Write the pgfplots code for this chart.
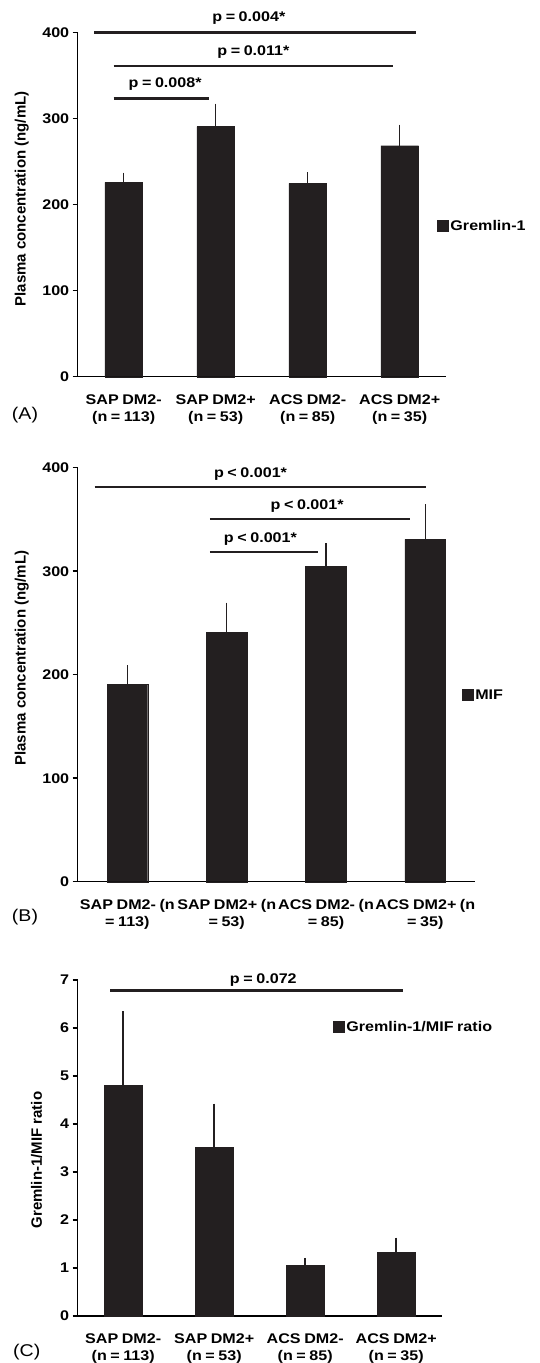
\documentclass[border=0pt]{standalone}
\usepackage{fontspec}
\setmainfont{Liberation Sans}[FakeStretch=1.15, WordSpace=0.8]
\newfontfamily\plainfont{Liberation Sans}
\usepackage{pgfplots}
\pgfplotsset{compat=1.18}
\definecolor{barc}{RGB}{35,31,32}
\newcommand{\tfont}{\bfseries\fontsize{14}{17.6}\selectfont}
\newcommand{\lfont}{\plainfont\bfseries\fontsize{15}{18}\selectfont}
\tikzset{sig/.style={line width=2.4pt, barc}}
\pgfplotsset{
  panel/.style={
    scale only axis,
    axis x line*=bottom, axis y line*=left,
    xmin=-0.5, xmax=3.5, ymin=0,
    xtick={0,1,2,3},
    x tick style={draw=none},
    y tick style={black, line width=1.5pt},
    tick align=outside, major tick length=5pt,
    axis line style={line width=1.5pt, black},
    ybar, bar width=0.41,
    clip=false,
    tick label style={font=\tfont},
    /pgf/number format/assume math mode=true,
    xticklabel style={align=center, yshift=-9pt},
    every axis y label/.style={rotate=90, anchor=center, font=\lfont},
    legend image code/.code={\fill[barc] (0pt,-5.5pt) rectangle (11pt,5.5pt);},
    legend style={draw=none, fill=none, anchor=west, font=\tfont, inner sep=0pt},
  },
  bars/.style={fill=barc, draw=barc,
    error bars/.cd, y dir=plus, y explicit,
    error bar style={line width=1.5pt, barc},
    error mark options={barc, mark size=3pt, line width=1.5pt}},
}
\begin{document}
\begin{tikzpicture}
\useasboundingbox (0,0) rectangle (539pt,-1363pt);
% Panel A
\begin{axis}[panel, at={(77.7pt,-376.7pt)}, anchor=south west,
  width=368pt, height=344.4pt, ymax=400, ytick={0,100,200,300,400},
  xticklabels={{SAP DM2-\\(n = 113)},{SAP DM2+\\(n = 53)},{ACS DM2-\\(n = 85)},{ACS DM2+\\(n = 35)}},
  ylabel={Plasma concentration (ng/mL)},
  ylabel style={at={(axis description cs:-0.152,0.516)}},
  legend style={at={(axis description cs:0.976,0.4376)}}]
\addplot[bars] coordinates {(0,225.8) +- (0,7.7) (1,290.4) +- (0,23.2) (2,224.6) +- (0,9.4) (3,268.3) +- (0,20.9)};
\legend{Gremlin-1}
\draw[sig] (axis cs:-0.32,400) -- (axis cs:3.18,400);
\draw[sig] (axis cs:-0.11,361.2) -- (axis cs:2.93,361.2);
\draw[sig] (axis cs:-0.11,323.3) -- (axis cs:0.93,323.3);
\node[font=\tfont] at (axis cs:1.36,416) {p = 0.004*};
\node[font=\tfont] at (axis cs:1.41,377) {p = 0.011*};
\node[font=\tfont] at (axis cs:0.45,340) {p = 0.008*};
\end{axis}
\node[font=\fontsize{17}{20}\selectfont] at (25pt,-415pt) {(A)};
% Panel B
\begin{axis}[panel, at={(77.7pt,-881.7pt)}, anchor=south west,
  width=397.3pt, height=414pt, ymax=400, ytick={0,100,200,300,400},
  xticklabels={{SAP DM2- (n\\= 113)},{SAP DM2+ (n\\= 53)},{ACS DM2- (n\\= 85)},{ACS DM2+ (n\\= 35)}},
  ylabel={Plasma concentration (ng/mL)},
  ylabel style={at={(axis description cs:-0.141,0.54)}},
  legend style={at={(axis description cs:0.9665,0.451)}}]
\addplot[bars] coordinates {(0,190.7) +- (0,15.5) (1,240.6) +- (0,26.1) (2,305) +- (0,19.3) (3,330.8) +- (0,30.9)};
\legend{MIF}
\draw[sig] (axis cs:-0.33,381.6) -- (axis cs:3.01,381.6);
\draw[sig] (axis cs:0.83,350.4) -- (axis cs:2.85,350.4);
\draw[sig] (axis cs:0.83,318.3) -- (axis cs:1.92,318.3);
\node[font=\tfont] at (axis cs:1.24,393.6) {p < 0.001*};
\node[font=\tfont] at (axis cs:1.81,363) {p < 0.001*};
\node[font=\tfont] at (axis cs:1.34,331) {p < 0.001*};
\end{axis}
\node[font=\fontsize{17}{20}\selectfont] at (25pt,-917.3pt) {(B)};
% Panel C
\begin{axis}[panel, at={(77.7pt,-1316pt)}, anchor=south west,
  width=364pt, height=336pt, ymax=7, ytick={0,1,2,3,4,5,6,7},
  xticklabels={{SAP DM2-\\(n = 113)},{SAP DM2+\\(n = 53)},{ACS DM2-\\(n = 85)},{ACS DM2+\\(n = 35)}},
  ylabel={Gremlin-1/MIF ratio},
  ylabel style={at={(axis description cs:-0.113,0.464)}},
  legend style={at={(axis description cs:0.7005,0.861)}}]
\addplot[bars] coordinates {(0,4.81) +- (0,1.48) (1,3.51) +- (0,0.85) (2,1.05) +- (0,0.10) (3,1.33) +- (0,0.24)};
\legend{Gremlin-1/MIF ratio}
\draw[sig] (axis cs:-0.145,6.78) -- (axis cs:3.07,6.78);
\node[font=\tfont] at (axis cs:1.54,7.0) {p = 0.072};
\end{axis}
\node[font=\fontsize{17}{20}\selectfont] at (26.7pt,-1351.7pt) {(C)};
\end{tikzpicture}
\end{document}
